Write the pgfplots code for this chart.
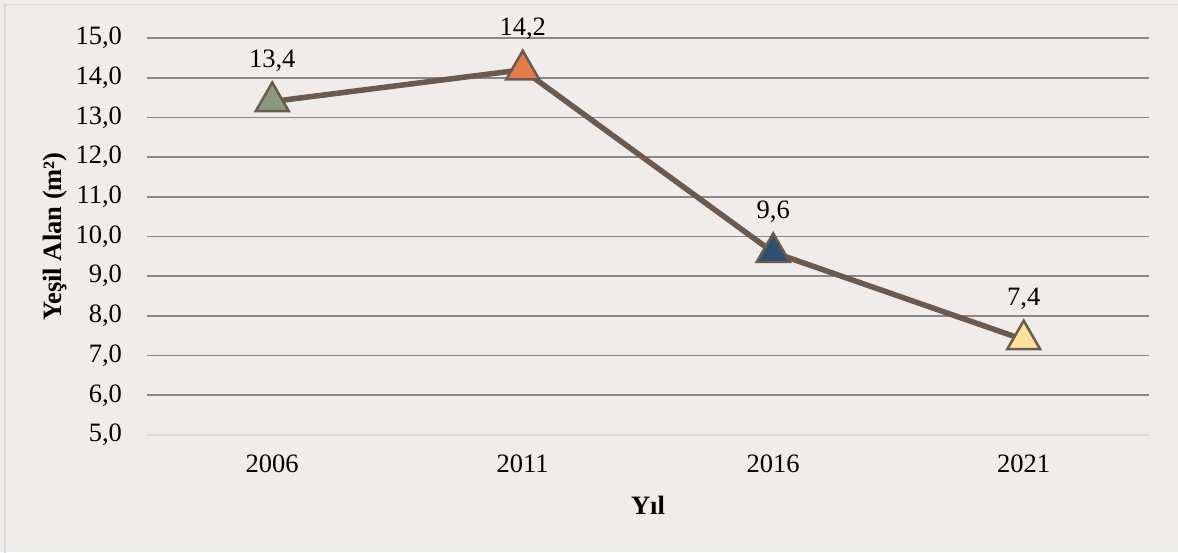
\documentclass[border=0pt]{standalone}
\usepackage{pgfplots}
\pgfplotsset{compat=1.18}
\usepackage{fontspec}
\setmainfont{Liberation Serif}
\definecolor{bg}{HTML}{EFECE9}
\definecolor{linec}{HTML}{6B5B4E}
\definecolor{gridc}{HTML}{888888}
\definecolor{mA}{HTML}{8A9A80}
\definecolor{mB}{HTML}{E57A4B}
\definecolor{mC}{HTML}{2F5070}
\definecolor{mD}{HTML}{FFE09B}
\begin{document}
\fontsize{26.5}{31}\selectfont
\begin{tikzpicture}
\fill[bg] (-147pt,-117pt) rectangle (1031pt,435pt);
\useasboundingbox (-147pt,-117pt) rectangle (1031pt,435pt);
\draw[black!15, line width=1.5pt] (-142pt,-140pt) -- (-142pt,430.5pt) -- (1040pt,430.5pt);
\begin{axis}[
  at={(0,0)}, anchor=south west,
  scale only axis, width=1002pt, height=397pt,
  xmin=-0.5, xmax=3.5, ymin=5, ymax=15,
  xtick={0,1,2,3}, xticklabels={2006,2011,2016,2021},
  ytick={6,7,...,15}, extra y ticks={5}, extra y tick style={grid=none},
  ymajorgrids, major grid style={gridc, line width=1.7pt},
  major tick length=0pt,
  separate axis lines,
  axis x line*=bottom, axis y line*=left,
  x axis line style={black!15, line width=1.7pt, -},
  y axis line style={draw=none},
  /pgf/number format/fixed, /pgf/number format/fixed zerofill,
  /pgf/number format/precision=1, /pgf/number format/use comma,
  /pgf/number format/assume math mode=true,
  yticklabel style={xshift=-16pt},
  xticklabel style={yshift=-11pt},
  ylabel={\textbf{Yeşil Alan (m²)}},
  ylabel style={at={(axis description cs:-0.0918,0.5)}, anchor=center, rotate=0},
  xlabel={\textbf{Yıl}},
  xlabel style={at={(axis description cs:0.5,-0.176)}, anchor=center},
  clip=false,
  every node near coord/.append style={anchor=base, yshift=34pt, black},
]
\addplot[linec, line width=5.5pt, mark=none] coordinates {(0,13.4)(1,14.2)(2,9.6)(3,7.4)};
\addplot[only marks, mark=triangle*, mark size=19pt, mark options={fill=mA, draw=linec, line width=2.5pt}, nodes near coords] coordinates {(0,13.4)};
\addplot[only marks, mark=triangle*, mark size=19pt, mark options={fill=mB, draw=linec, line width=2.5pt}, nodes near coords] coordinates {(1,14.2)};
\addplot[only marks, mark=triangle*, mark size=19pt, mark options={fill=mC, draw=linec, line width=2.5pt}, nodes near coords] coordinates {(2,9.6)};
\addplot[only marks, mark=triangle*, mark size=19pt, mark options={fill=mD, draw=linec, line width=2.5pt}, nodes near coords] coordinates {(3,7.4)};
\end{axis}
\end{tikzpicture}
\end{document}
